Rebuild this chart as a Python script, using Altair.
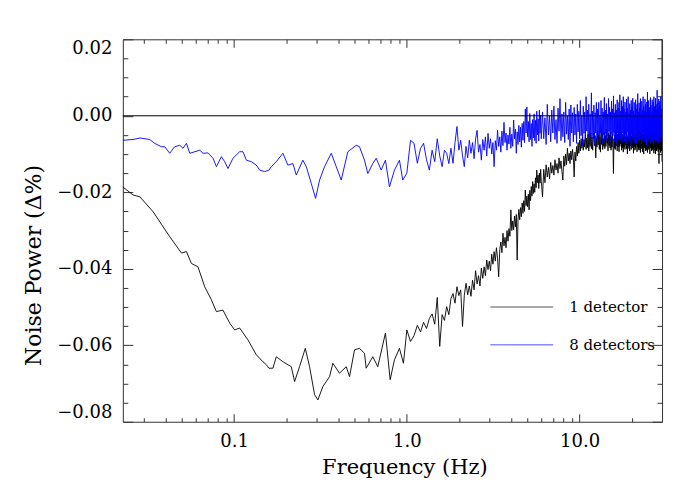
import altair as alt
import pandas as pd

# ---------------- data ----------------
series_names = ["1 detector", "8 detectors"]
series_colors = ["#000000", "#0000ff"]

# low-frequency part, 1 detector (black)
f_1det_low = [0.0227, 0.0260, 0.0285, 0.0340, 0.0424, 0.0496, 0.0530, 0.0566, 0.0618, 0.0676,
              0.0739, 0.0790, 0.0862, 0.0943, 0.1008, 0.1077, 0.1203, 0.1345, 0.1469, 0.1537,
              0.1591, 0.1678, 0.1755, 0.1917, 0.2143, 0.2240, 0.2393, 0.2583, 0.2735, 0.2924,
              0.3055, 0.3265, 0.3570, 0.3730, 0.4076, 0.4458, 0.4659, 0.4980, 0.5321, 0.5686,
              0.5816, 0.6351, 0.6789, 0.7518, 0.8006, 0.8477, 0.9060, 0.9556]
v_1det_low = [-0.0186, -0.0207, -0.0212, -0.0251, -0.0316, -0.0359, -0.0355, -0.0386, -0.0395, -0.0447,
              -0.0481, -0.0512, -0.0508, -0.0542, -0.0560, -0.0555, -0.0586, -0.0625, -0.0643, -0.0651,
              -0.0660, -0.0660, -0.0630, -0.0643, -0.0656, -0.0695, -0.0656, -0.0608, -0.0656, -0.0729,
              -0.0743, -0.0708, -0.0682, -0.0647, -0.0673, -0.0656, -0.0682, -0.0612, -0.0608, -0.0621,
              -0.0660, -0.0630, -0.0656, -0.0568, -0.0690, -0.0638, -0.0608, -0.0647]

# low-frequency part, 8 detectors (blue)
f_8det_low = [0.0227, 0.0260, 0.0285, 0.0325, 0.0347, 0.0380, 0.0397, 0.0424, 0.0453, 0.0485,
              0.0506, 0.0530, 0.0554, 0.0633, 0.0661, 0.0707, 0.0755, 0.0790, 0.0844, 0.0882,
              0.0922, 0.0985, 0.1077, 0.1126, 0.1178, 0.1259, 0.1345, 0.1406, 0.1502, 0.1591,
              0.1643, 0.1755, 0.1917, 0.2048, 0.2190, 0.2291, 0.2501, 0.2618, 0.2798, 0.2963,
              0.3125, 0.3340, 0.3651, 0.3903, 0.4170, 0.4554, 0.5093, 0.5321, 0.5686, 0.5943,
              0.6351, 0.6645, 0.7102, 0.7518, 0.7931, 0.8477, 0.9060, 0.9467]
v_8det_low = [-0.0064, -0.0062, -0.0058, -0.0062, -0.0072, -0.0081, -0.0081, -0.0098, -0.0081, -0.0077,
              -0.0085, -0.0072, -0.0098, -0.0090, -0.0098, -0.0097, -0.0111, -0.0133, -0.0107, -0.0120,
              -0.0138, -0.0111, -0.0094, -0.0094, -0.0116, -0.0120, -0.0129, -0.0142, -0.0146, -0.0142,
              -0.0133, -0.0120, -0.0098, -0.0129, -0.0125, -0.0155, -0.0116, -0.0133, -0.0177, -0.0216,
              -0.0168, -0.0133, -0.0098, -0.0133, -0.0168, -0.0094, -0.0077, -0.0081, -0.0116, -0.0151,
              -0.0125, -0.0111, -0.0142, -0.0116, -0.0186, -0.0142, -0.0116, -0.0168]

# high-frequency grid (Hz), shared by both series
f_high = [1.00, 1.05, 1.10, 1.15, 1.20, 1.25, 1.30, 1.35, 1.40, 1.45,
          1.50, 1.55, 1.60, 1.65, 1.70, 1.75, 1.80, 1.85, 1.90, 1.95, 2.00,
          2.05, 2.10, 2.15, 2.20, 2.25, 2.30, 2.35, 2.40, 2.45, 2.50,
          2.55, 2.60, 2.65, 2.70, 2.75, 2.80, 2.85, 2.90, 2.95, 3.00,
          3.05, 3.10, 3.15, 3.20, 3.25, 3.30, 3.35, 3.40, 3.45, 3.50,
          3.55, 3.60, 3.65, 3.70, 3.75, 3.80, 3.85, 3.90, 3.95, 4.00,
          4.05, 4.10, 4.15, 4.20, 4.25, 4.30, 4.35, 4.40, 4.45, 4.50,
          4.55, 4.60, 4.65, 4.70, 4.75, 4.80, 4.85, 4.90, 4.95, 5.00,
          5.05, 5.10, 5.15, 5.20, 5.25, 5.30, 5.35, 5.40, 5.45, 5.50,
          5.55, 5.60, 5.65, 5.70, 5.75, 5.80, 5.85, 5.90, 5.95, 6.00,
          6.1, 6.2, 6.3, 6.4, 6.5, 6.6, 6.7, 6.8, 6.9, 7.0,
          7.1, 7.2, 7.3, 7.4, 7.5, 7.6, 7.7, 7.8, 7.9, 8.0,
          8.1, 8.2, 8.3, 8.4, 8.5, 8.6, 8.7, 8.8, 8.9, 9.0,
          9.1, 9.2, 9.3, 9.4, 9.5, 9.6, 9.7, 9.8, 9.9, 10.0,
          10.1, 10.2, 10.3, 10.4, 10.5, 10.6, 10.7, 10.8, 10.9, 11.0,
          11.1, 11.2, 11.3, 11.4, 11.5, 11.6, 11.7, 11.8, 11.9, 12.0,
          12.1, 12.2, 12.3, 12.4, 12.5, 12.6, 12.7, 12.8, 12.9, 13.0,
          13.1, 13.2, 13.3, 13.4, 13.5, 13.6, 13.7, 13.8, 13.9, 14.0,
          14.1, 14.2, 14.3, 14.4, 14.5, 14.6, 14.7, 14.8, 14.9, 15.0,
          15.1, 15.2, 15.3, 15.4, 15.5, 15.6, 15.7, 15.8, 15.9, 16.0,
          16.1, 16.2, 16.3, 16.4, 16.5, 16.6, 16.7, 16.8, 16.9, 17.0,
          17.1, 17.2, 17.3, 17.4, 17.5, 17.6, 17.7, 17.8, 17.9, 18.0,
          18.1, 18.2, 18.3, 18.4, 18.5, 18.6, 18.7, 18.8, 18.9, 19.0,
          19.1, 19.2, 19.3, 19.4, 19.5, 19.6, 19.7, 19.8, 19.9, 20.0,
          20.1, 20.2, 20.3, 20.4, 20.5, 20.6, 20.7, 20.8, 20.9, 21.0,
          21.1, 21.2, 21.3, 21.4, 21.5, 21.6, 21.7, 21.8, 21.9, 22.0,
          22.1, 22.2, 22.3, 22.4, 22.5, 22.6, 22.7, 22.8, 22.9, 23.0,
          23.1, 23.2, 23.3, 23.4, 23.5, 23.6, 23.7, 23.8, 23.9, 24.0,
          24.1, 24.2, 24.3, 24.4, 24.5, 24.6, 24.7, 24.8, 24.9, 25.0,
          25.1, 25.2, 25.3, 25.4, 25.5, 25.6, 25.7, 25.8, 25.9, 26.0,
          26.1, 26.2, 26.3, 26.4, 26.5, 26.6, 26.7, 26.8, 26.9, 27.0,
          27.1, 27.2, 27.3, 27.4, 27.5, 27.6, 27.7, 27.8, 27.9, 28.0,
          28.1, 28.2, 28.3, 28.4, 28.5, 28.6, 28.7, 28.8, 28.9, 29.0,
          29.1, 29.2, 29.3, 29.4, 29.5, 29.6, 29.7, 29.8, 29.9, 30.0]

v_1det_high = [
    -0.0560, -0.0590, -0.0575, -0.0548, -0.0565, -0.0540, -0.0556, -0.0530, -0.0518, -0.0545,
    -0.0475, -0.0603, -0.0520, -0.0535, -0.0499, -0.0520, -0.0478, -0.0465, -0.0490, -0.0447, -0.0470,
    -0.0455, -0.0551, -0.0470, -0.0438, -0.0468, -0.0445, -0.0472, -0.0430, -0.0455, -0.0405,
    -0.0440, -0.0418, -0.0445, -0.0398, -0.0425, -0.0395, -0.0418, -0.0377, -0.0402, -0.0380,
    -0.0405, -0.0362, -0.0388, -0.0355, -0.0380, -0.0345, -0.0372, -0.0421, -0.0350, -0.0330,
    -0.0358, -0.0307, -0.0340, -0.0318, -0.0345, -0.0300, -0.0328, -0.0295, -0.0315, -0.0246,
    -0.0300, -0.0275, -0.0298, -0.0262, -0.0290, -0.0258, -0.0377, -0.0270, -0.0245, -0.0272,
    -0.0240, -0.0264, -0.0228, -0.0255, -0.0222, -0.0250, -0.0194, -0.0235, -0.0210, -0.0238,
    -0.0205, -0.0246, -0.0195, -0.0222, -0.0185, -0.0210, -0.0172, -0.0203, -0.0178, -0.0200,
    -0.0162, -0.0188, -0.0142, -0.0175, -0.0155, -0.0190, -0.0150, -0.0176, -0.0140, -0.0172,
    -0.0212, -0.0140, -0.0175, -0.0128, -0.0160, -0.0135, -0.0165, -0.0122, -0.0150, -0.0130,
    -0.0155, -0.0115, -0.0142, -0.0125, -0.0150, -0.0110, -0.0138, -0.0118, -0.0145, -0.0168,
    -0.0105, -0.0132, -0.0100, -0.0128, -0.0085, -0.0118, -0.0098, -0.0125, -0.0092, -0.0115,
    -0.0088, -0.0110, -0.0160, -0.0095, -0.0118, -0.0080, -0.0105, -0.0070, -0.0098, -0.0064,
    -0.0092, -0.0060, -0.0085, -0.0055, -0.0090, -0.0062, -0.0082, -0.0050, -0.0088, -0.0058,
    -0.0084, -0.0048, -0.0092, -0.0060, -0.0080, -0.0045, -0.0086, -0.0056, -0.0090, -0.0062,
    -0.0045, -0.0078, -0.0052, -0.0110, -0.0058, -0.0082, -0.0040, -0.0076, -0.0050, -0.0088,
    -0.0055, -0.0095, -0.0038, -0.0075, -0.0046, -0.0088, -0.0060, -0.0080, -0.0042, -0.0086,
    -0.0052, -0.0080, -0.0035, -0.0072, -0.0058, -0.0092, -0.0045, -0.0078, -0.0050, -0.0084,
    -0.0044, -0.0090, -0.0055, -0.0082, -0.0048, -0.0078, -0.0151, -0.0060, -0.0085, -0.0050,
    -0.0088, -0.0040, -0.0078, -0.0056, -0.0092, -0.0048, -0.0082, -0.0052, -0.0094, -0.0046,
    -0.0080, -0.0036, -0.0074, -0.0054, -0.0090, -0.0048, -0.0084, -0.0058, -0.0095, -0.0050,
    -0.0082, -0.0042, -0.0088, -0.0055, -0.0076, -0.0046, -0.0086, -0.0052, -0.0100, -0.0056,
    -0.0080, -0.0040, -0.0086, -0.0058, -0.0092, -0.0050, -0.0078, -0.0044, -0.0088, -0.0054,
    -0.0078, -0.0036, -0.0084, -0.0055, -0.0098, -0.0048, -0.0080, -0.0042, -0.0090, -0.0052,
    -0.0085, -0.0046, -0.0076, -0.0058, -0.0094, -0.0046, -0.0082, -0.0038, -0.0088, -0.0056,
    -0.0090, -0.0050, -0.0084, -0.0044, -0.0096, -0.0054, -0.0080, -0.0040, -0.0086, -0.0050,
    -0.0094, -0.0048, -0.0078, -0.0044, -0.0100, -0.0052, -0.0084, -0.0038, -0.0080, -0.0046,
    -0.0092, -0.0054, -0.0086, -0.0042, -0.0090, -0.0050, -0.0096, -0.0046, -0.0082, -0.0056,
    -0.0088, -0.0040, -0.0078, -0.0048, -0.0100, -0.0052, -0.0084, -0.0038, -0.0080, -0.0050,
    -0.0092, -0.0046, -0.0086, -0.0054, -0.0090, -0.0042, -0.0084, -0.0050, -0.0098, -0.0048,
    -0.0082, -0.0044, -0.0090, -0.0055, -0.0100, -0.0048, -0.0086, -0.0042, -0.0092, -0.0052,
    -0.0088, -0.0046, -0.0080, -0.0054, -0.0094, -0.0048, -0.0086, -0.0125, -0.0050, -0.0088,
    -0.0044, -0.0082, -0.0056, -0.0096, -0.0045, -0.0085, -0.0050, -0.0092, -0.0058, -0.0120]

v_8det_high = [
    -0.0150, -0.0064, -0.0072, -0.0124, -0.0085, -0.0072, -0.0115, -0.0142, -0.0090, -0.0120,
    -0.0060, -0.0105, -0.0133, -0.0090, -0.0098, -0.0125, -0.0085, -0.0124, -0.0070, -0.0028, -0.0090,
    -0.0064, -0.0105, -0.0133, -0.0080, -0.0110, -0.0064, -0.0098, -0.0070, -0.0112, -0.0060,
    -0.0038, -0.0095, -0.0075, -0.0116, -0.0062, -0.0090, -0.0055, -0.0105, -0.0046, -0.0085,
    -0.0060, -0.0100, -0.0070, -0.0133, -0.0065, -0.0090, -0.0038, -0.0080, -0.0055, -0.0095,
    -0.0040, -0.0078, -0.0017, -0.0070, -0.0045, -0.0090, -0.0050, -0.0074, -0.0030, -0.0085,
    -0.0048, -0.0080, -0.0011, -0.0060, -0.0035, -0.0098, -0.0042, -0.0075, -0.0025, -0.0068,
    -0.0030, -0.0082, -0.0020, -0.0064, -0.0015, -0.0070, 0.0018, -0.0045, 0.0023, -0.0055,
    -0.0015, -0.0068, 0.0006, -0.0062, -0.0020, -0.0080, -0.0010, -0.0058, 0.0005, -0.0065,
    -0.0012, -0.0072, 0.0012, -0.0050, -0.0008, -0.0066, 0.0015, -0.0046, 0.0002, -0.0060,
    0.0010, -0.0060, -0.0005, -0.0075, 0.0030, -0.0050, 0.0000, -0.0068, 0.0015, -0.0045,
    0.0025, -0.0062, -0.0010, -0.0072, 0.0020, -0.0040, 0.0045, -0.0065, 0.0005, -0.0055,
    0.0010, -0.0070, 0.0035, -0.0048, 0.0000, -0.0062, 0.0018, -0.0080, 0.0028, -0.0045,
    0.0008, -0.0068, 0.0022, -0.0050, 0.0005, -0.0072, 0.0030, -0.0042, 0.0012, -0.0060,
    0.0040, -0.0052, 0.0000, -0.0078, 0.0025, -0.0046, 0.0010, -0.0065, 0.0050, -0.0040,
    0.0015, -0.0058, 0.0030, -0.0070, 0.0005, -0.0048, 0.0060, -0.0060, 0.0012, -0.0052,
    0.0028, -0.0075, 0.0008, -0.0045, 0.0035, -0.0062, 0.0018, -0.0050, 0.0035, -0.0068,
    0.0002, -0.0044, 0.0040, -0.0058, 0.0020, -0.0072, 0.0010, -0.0050, 0.0048, -0.0060,
    0.0015, -0.0046, 0.0032, -0.0066, 0.0005, -0.0054, 0.0045, -0.0040, 0.0022, -0.0070,
    0.0010, -0.0048, 0.0038, -0.0062, 0.0018, -0.0052, 0.0052, -0.0044, 0.0008, -0.0068,
    0.0030, -0.0056, 0.0015, -0.0075, 0.0042, -0.0046, 0.0020, -0.0060, 0.0035, -0.0050,
    0.0055, -0.0064, 0.0012, -0.0058, 0.0040, -0.0070, 0.0025, -0.0045, 0.0050, -0.0052,
    0.0018, -0.0066, 0.0036, -0.0048, 0.0010, -0.0074, 0.0044, -0.0056, 0.0020, -0.0042,
    0.0050, -0.0062, 0.0008, -0.0068, 0.0032, -0.0050, 0.0015, -0.0076, 0.0040, -0.0046,
    0.0022, -0.0058, 0.0046, -0.0064, 0.0012, -0.0048, 0.0035, -0.0070, 0.0005, -0.0054,
    0.0042, -0.0046, 0.0018, -0.0072, 0.0030, -0.0056, 0.0058, -0.0062, 0.0010, -0.0048,
    0.0034, -0.0068, 0.0020, -0.0052, 0.0045, -0.0060, 0.0008, -0.0074, 0.0038, -0.0044,
    0.0016, -0.0064, 0.0050, -0.0050, 0.0025, -0.0070, 0.0012, -0.0056, 0.0044, -0.0062,
    0.0030, -0.0048, 0.0010, -0.0076, 0.0036, -0.0054, 0.0062, -0.0066, 0.0018, -0.0050,
    0.0040, -0.0060, 0.0022, -0.0046, 0.0014, -0.0072, 0.0048, -0.0058, 0.0028, -0.0064,
    0.0008, -0.0052, 0.0042, -0.0068, 0.0020, -0.0056, 0.0036, -0.0078, 0.0050, -0.0046,
    0.0024, -0.0062, 0.0012, -0.0054, 0.0046, -0.0070, 0.0030, -0.0048, 0.0016, -0.0066,
    0.0067, -0.0058, 0.0034, -0.0064, 0.0020, -0.0050, 0.0044, -0.0072, 0.0010, -0.0056,
    0.0038, -0.0068, 0.0026, -0.0052, 0.0050, -0.0062, 0.0018, -0.0058, 0.0042, 0.0250]

x_major = [0.1, 1.0, 10.0]
x_minor = [0.03, 0.04, 0.05, 0.06, 0.07, 0.08, 0.09,
           0.2, 0.3, 0.4, 0.5, 0.6, 0.7, 0.8, 0.9,
           2, 3, 4, 5, 6, 7, 8, 9, 20]
y_major = [-0.08, -0.06, -0.04, -0.02, 0.0, 0.02]
y_minor = [-0.075, -0.07, -0.065, -0.055, -0.05, -0.045, -0.035, -0.03, -0.025,
           -0.015, -0.01, -0.005, 0.005, 0.01, 0.015]
zero_level = [0.0]

assert len(f_1det_low) == len(v_1det_low)
assert len(f_8det_low) == len(v_8det_low)
assert len(f_high) == len(v_1det_high) == len(v_8det_high), (len(f_high), len(v_1det_high), len(v_8det_high))

# ---------------- build table ----------------
f1 = f_1det_low + f_high
v1 = v_1det_low + v_1det_high
f8 = f_8det_low + f_high
v8 = v_8det_low + v_8det_high
df = pd.DataFrame({
    "f": f1 + f8,
    "v": v1 + v8,
    "series": [series_names[0]] * len(f1) + [series_names[1]] * len(f8),
})
zero_df = pd.DataFrame({"v": zero_level})

W, H = 540, 383
FONT = "DejaVu Serif"
TICK = "#333333"

xscale = alt.Scale(type="log", domain=[0.0227, 30], nice=False)
yscale = alt.Scale(domain=[-0.08, 0.02], nice=False, zero=False)


def tick_axis(orient, values, size, offset):
    return alt.Axis(orient=orient, values=values, tickSize=size, offset=offset,
                    labels=False, domain=False, grid=False, title=None,
                    tickColor=TICK, tickWidth=1)


def tick_layer(xaxis, yaxis):
    return alt.Chart(df).mark_line(strokeOpacity=0).encode(
        x=alt.X("f:Q", scale=xscale, axis=xaxis),
        y=alt.Y("v:Q", scale=yscale, axis=yaxis),
        detail="series:N",
    )


# inward ticks on all four sides
t1 = tick_layer(tick_axis("top", x_major, 8, -H), tick_axis("right", y_major, 10, -W))
t2 = tick_layer(tick_axis("top", x_minor, 4, -H), tick_axis("right", y_minor, 5, -W))
t3 = tick_layer(tick_axis("bottom", x_major, 8, -H), tick_axis("left", y_major, 10, -W))
t4 = tick_layer(tick_axis("bottom", x_minor, 4, -H), tick_axis("left", y_minor, 5, -W))

lines = alt.Chart(df).mark_line(strokeWidth=0.9, clip=True).encode(
    x=alt.X("f:Q", scale=xscale,
            axis=alt.Axis(orient="bottom", values=x_major, format=".1f",
                          ticks=False, tickSize=0, domain=False, grid=False,
                          labelPadding=11, labelFont=FONT, labelFontSize=18,
                          labelColor="#000000",
                          title="Frequency (Hz)", titleFont=FONT, titleFontSize=21,
                          titleFontWeight="normal", titleColor="#000000",
                          titleX=282, titleY=46, titleBaseline="middle",
                          titleAlign="center")),
    y=alt.Y("v:Q", scale=yscale,
            axis=alt.Axis(orient="left", values=y_major,
                          labelExpr="replace(format(datum.value, '.2f'), '-', '\u2212')",
                          ticks=False, tickSize=0, domain=False, grid=False,
                          labelPadding=11, labelFlush=True,
                          labelFont=FONT, labelFontSize=18, labelColor="#000000",
                          title="Noise Power (\u0394%)", titleFont=FONT, titleFontSize=22,
                          titleFontWeight="normal", titleColor="#000000",
                          titleX=-89, titleY=226, titleBaseline="middle",
                          titleAlign="center", titleAngle=-90)),
    color=alt.Color("series:N",
                    scale=alt.Scale(domain=series_names, range=series_colors),
                    legend=alt.Legend(orient="none", legendX=367, legendY=260,
                                      title=None, symbolType="stroke",
                                      symbolSize=3969, symbolStrokeWidth=1.5,
                                      symbolOpacity=0.45, clipHeight=16,
                                      rowPadding=22, labelOffset=15, padding=0,
                                      labelFont=FONT, labelFontSize=15,
                                      labelColor="#000000")),
)

zero_rule = alt.Chart(zero_df).mark_rule(color="#000000", strokeWidth=1).encode(
    y=alt.Y("v:Q", scale=yscale, axis=None)
)

chart = alt.layer(t1, t2, t3, t4, lines, zero_rule).resolve_axis(
    x="independent", y="independent"
).properties(
    width=W, height=H,
    background="white",
    autosize=alt.AutoSizeParams(type="none"),
    padding={"left": 115, "top": 31, "right": 30, "bottom": 70},
).configure_view(
    stroke="#333333", strokeWidth=1
)

chart.save("out.html", embed_options={"renderer": "svg", "actions": False})
